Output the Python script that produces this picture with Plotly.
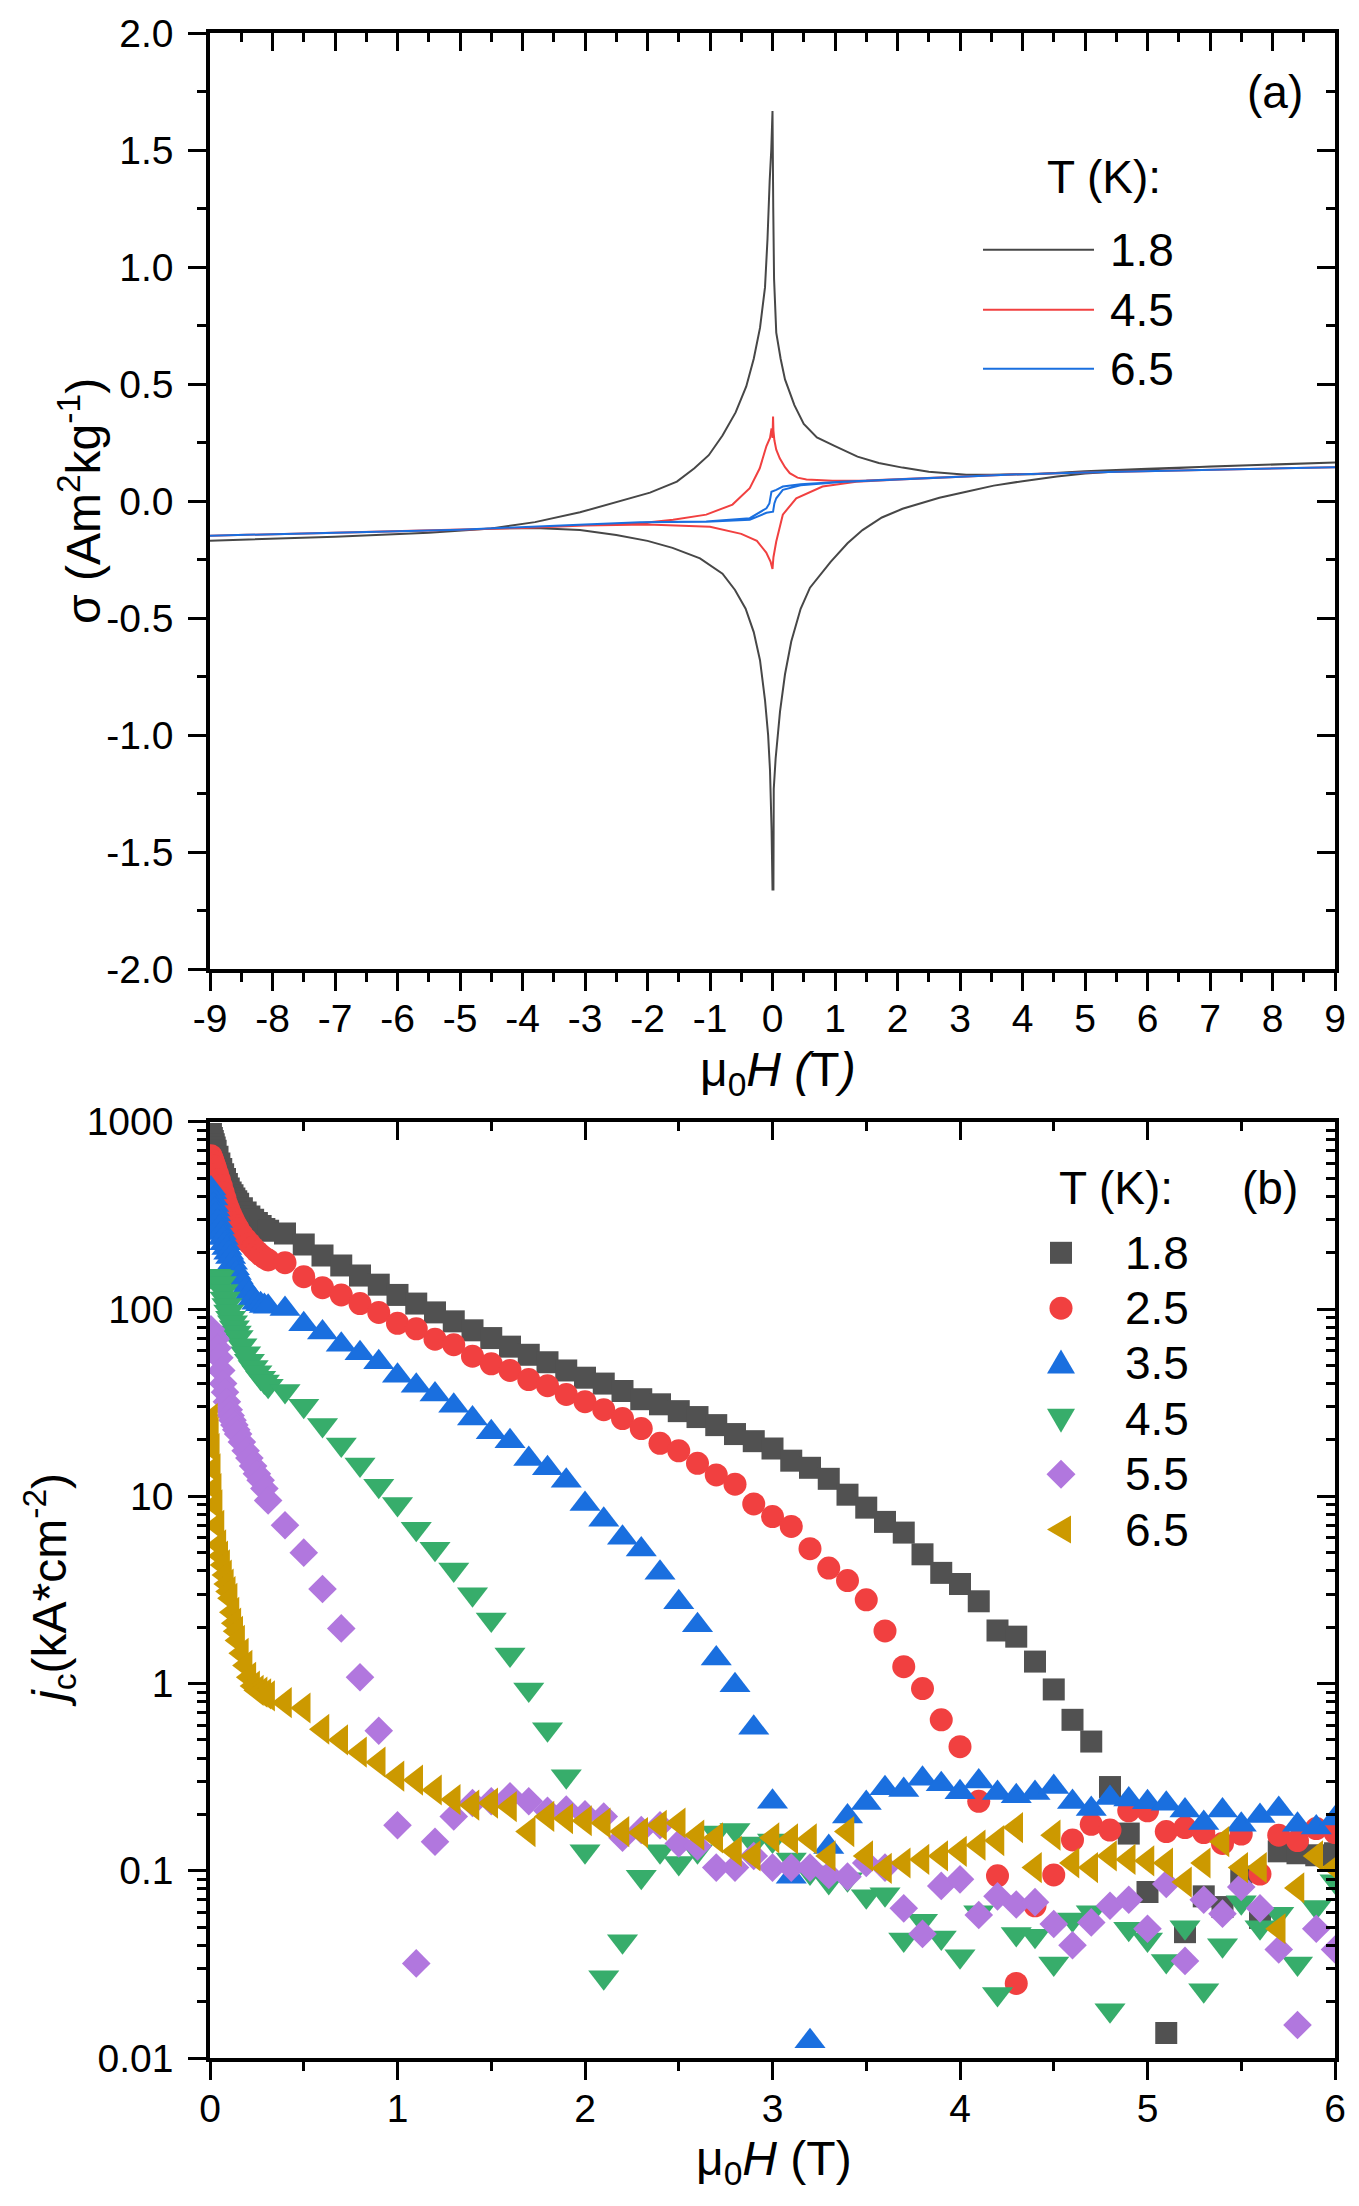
import plotly.graph_objects as go

FONT = "Liberation Sans, Arial, Helvetica, sans-serif"

# ---------------- Panel (a): sigma vs mu0H loops ----------------
# upper branch (field sweeping down from +9 T to -9 T)
H18_up = [9, 7, 6, 5, 4.5, 4.18, 3.5, 3.1, 2.5, 2.08, 1.7, 1.36, 1.0, 0.71, 0.5, 0.35, 0.2, 0.13, 0.06,
          0.04, 0.025, 0.012, 0.0, -0.02, -0.045, -0.08, -0.12, -0.2, -0.3, -0.42, -0.59, -0.8, -1.02,
          -1.25, -1.53, -1.96, -2.5, -3.08, -3.8, -4.5, -5.5, -7, -9]
S18_up = [0.165, 0.148, 0.138, 0.127, 0.12, 0.115, 0.113, 0.113, 0.125, 0.143, 0.163, 0.19, 0.235, 0.272,
          0.33, 0.41, 0.52, 0.608, 0.72, 0.82, 0.95, 1.25, 1.667, 1.5, 1.37, 1.12, 0.913, 0.74, 0.608,
          0.49, 0.379, 0.28, 0.196, 0.14, 0.083, 0.036, -0.005, -0.048, -0.09, -0.117, -0.135, -0.152, -0.169]
# lower branch (field sweeping up from -9 T to +9 T)
H18_dn = [-9, -7, -5.5, -4.5, -3.8, -3.08, -2.5, -2.0, -1.6, -1.16, -0.8, -0.6, -0.43, -0.3, -0.2, -0.12,
          -0.07, -0.04, -0.015, 0.0, 0.015, 0.02, 0.05, 0.12, 0.2, 0.3, 0.45, 0.6, 0.93, 1.2, 1.44, 1.75,
          2.08, 2.67, 3.1, 3.54, 4.0, 4.55, 5.0, 6, 7, 9]
S18_dn = [-0.169, -0.152, -0.135, -0.117, -0.115, -0.124, -0.145, -0.17, -0.2, -0.245, -0.31, -0.38, -0.46,
          -0.56, -0.68, -0.85, -1.0, -1.15, -1.4, -1.66, -1.66, -1.23, -1.1, -0.9, -0.74, -0.6, -0.46,
          -0.37, -0.26, -0.18, -0.124, -0.07, -0.033, 0.014, 0.04, 0.066, 0.085, 0.105, 0.118, 0.135, 0.148, 0.165]

H45_up = [9, 7, 5, 4, 3, 2.03, 1.5, 0.96, 0.543, 0.4, 0.276, 0.2, 0.116, 0.06, 0.03, 0.015, 0.009, 0.0,
          -0.015, -0.04, -0.097, -0.204, -0.364, -0.64, -1.06, -1.59, -2.12, -3, -4, -5, -7, -9]
S45_up = [0.145, 0.135, 0.122, 0.115, 0.104, 0.092, 0.088, 0.087, 0.092, 0.1, 0.119, 0.145, 0.183, 0.22,
          0.26, 0.3, 0.361, 0.27, 0.31, 0.27, 0.235, 0.14, 0.055, -0.015, -0.058, -0.08, -0.095, -0.104,
          -0.115, -0.122, -0.135, -0.148]
H45_dn = [-9, -7, -5, -4, -3, -2.0, -1.0, -0.5, -0.25, -0.1, -0.03, 0.0, 0.015, 0.06, 0.165, 0.38, 0.8,
          1.34, 2.03, 3, 4, 5, 7, 9]
S45_dn = [-0.148, -0.135, -0.122, -0.115, -0.104, -0.1, -0.11, -0.14, -0.17, -0.22, -0.26, -0.29, -0.24,
          -0.173, -0.058, 0.012, 0.062, 0.083, 0.092, 0.104, 0.115, 0.122, 0.135, 0.145]

H65_up = [9, 7, 5, 4, 3, 2.03, 1.1, 0.45, 0.165, 0.06, 0.0, -0.017, -0.05, -0.097, -0.364, -1.06, -2.12,
          -3, -5, -7, -9]
S65_up = [0.145, 0.135, 0.122, 0.115, 0.105, 0.094, 0.083, 0.072, 0.062, 0.048, 0.04, 0.04, -0.01, -0.031,
          -0.073, -0.087, -0.09, -0.1, -0.122, -0.135, -0.148]
H65_dn = [-9, -7, -5, -3, -2.12, -1.06, -0.364, -0.097, 0.009, 0.03, 0.06, 0.165, 0.45, 1.1, 2.03, 3, 4,
          5, 7, 9]
S65_dn = [-0.148, -0.135, -0.122, -0.1, -0.09, -0.088, -0.08, -0.05, -0.045, -0.01, 0.012, 0.048, 0.068,
          0.082, 0.093, 0.105, 0.115, 0.122, 0.135, 0.145]

loops = [("1.8", H18_up + H18_dn, S18_up + S18_dn, "#474747"),
         ("4.5", H45_up + H45_dn, S45_up + S45_dn, "#F14040"),
         ("6.5", H65_up + H65_dn, S65_up + S65_dn, "#1A6FDF")]

# ---------------- Panel (b): jc vs mu0H ----------------
H_dense = [0.005, 0.01, 0.015, 0.02, 0.025, 0.03, 0.04, 0.05, 0.06, 0.07, 0.08, 0.09, 0.10, 0.11, 0.12,
           0.13, 0.14, 0.15, 0.17, 0.19, 0.21, 0.23, 0.25, 0.27, 0.29, 0.31]
H_step = [0.4, 0.5, 0.6, 0.7, 0.8, 0.9, 1.0, 1.1, 1.2, 1.3, 1.4, 1.5, 1.6, 1.7, 1.8, 1.9, 2.0,
          2.1, 2.2, 2.3, 2.4, 2.5, 2.6, 2.7, 2.8, 2.9, 3.0, 3.1, 3.2, 3.3, 3.4, 3.5, 3.6, 3.7, 3.8, 3.9, 4.0,
          4.1, 4.2, 4.3, 4.4, 4.5, 4.6, 4.7, 4.8, 4.9, 5.0, 5.1, 5.2, 5.3, 5.4, 5.5, 5.6, 5.7, 5.8, 5.9, 6.0]
H_b = H_dense + H_step

jc_18 = [860, 820, 790, 760, 730, 700, 650, 600, 560, 525, 495, 465, 440, 420, 405, 390, 377, 365, 345, 328,
         312, 300, 288, 278, 268, 262,
         253, 221, 193, 171, 151, 135, 119, 107, 96, 86, 77, 70, 63, 57, 52, 47, 43,
         40, 36.5, 33, 31, 28.5, 26.5, 24, 21.5, 19.7, 18, 15.5, 14.2, 12.4, 10.2, 8.7, 7.3, 6.4, 4.9, 3.9, 3.4,
         2.75, 1.92, 1.78, 1.31, 0.93, 0.64, 0.49, 0.28, 0.158, 0.077, 0.0136, 0.047, 0.073, 0.064, 0.093,
         0.056, 0.127, 0.124, 0.121, 0.124]
jc_25 = [660, 640, 620, 600, 580, 560, 525, 490, 455, 420, 390, 360, 340, 320, 305, 290, 278, 268, 250, 236,
         224, 213, 203, 195, 188, 183,
         177, 149, 130, 119, 107, 96, 84, 78.5, 69, 64.5, 56, 51, 47, 42, 39, 35, 32,
         29, 26, 23, 19.2, 17.5, 15, 13, 11.6, 9.1, 7.8, 6.9, 5.25, 4.14, 3.55, 2.8, 1.91, 1.23, 0.94, 0.64, 0.46,
         0.235, 0.094, 0.025, 0.065, 0.095, 0.146, 0.177, 0.165, 0.209, 0.209, 0.162, 0.17, 0.16, 0.14, 0.157,
         0.096, 0.155, 0.145, 0.168, 0.16]
jc_35 = [440, 420, 390, 360, 340, 320, 295, 273, 255, 240, 225, 212, 200, 190, 177, 165, 156, 148, 138, 128,
         121, 114, 108, 106, 104, 103,
         100, 83, 75, 64.5, 58, 52, 44, 39, 35, 30.5, 26, 22, 19.7, 15.8, 14.1, 12.1, 9.1,
         7.5, 6.0, 5.2, 3.9, 2.72, 2.05, 1.36, 0.98, 0.58, 0.234, 0.093, 0.0123, 0.134, 0.195, 0.23, 0.276, 0.27,
         0.31, 0.29, 0.263, 0.3, 0.26, 0.25, 0.26, 0.28, 0.233, 0.214, 0.245, 0.24, 0.232, 0.228, 0.21, 0.18,
         0.21, 0.176, 0.196, 0.214, 0.176, 0.17, 0.19]
jc_45 = [150, 150, 150, 150, 150, 150, 149, 148, 138, 125, 114, 105, 97, 90, 85, 80, 75, 71, 64, 58,
         53, 49, 46, 43, 41, 39,
         36.5, 30.5, 24, 18.9, 14.8, 11.4, 9.1, 6.7, 5.25, 4.07, 3.0, 2.2, 1.43, 0.93, 0.57, 0.32, 0.127,
         0.027, 0.042, 0.093, 0.127, 0.11, 0.127, 0.16, 0.165, 0.14, 0.145, 0.115, 0.098, 0.087, 0.09, 0.073,
         0.075, 0.043, 0.054, 0.044, 0.035, 0.06, 0.022, 0.046, 0.045, 0.032, 0.055, 0.06, 0.018, 0.049, 0.043,
         0.033, 0.05, 0.023, 0.04, 0.068, 0.05, 0.059, 0.032, 0.064, 0.088]
jc_55 = [78, 74, 72, 71, 70, 69, 62, 55, 47, 40, 36, 32, 29, 27, 25.5, 24, 22.7, 21.5, 19.5, 17.5,
         16, 14.5, 13.2, 12.2, 11, 9.5,
         7.0, 5.0, 3.2, 1.97, 1.08, 0.56, 0.175, 0.032, 0.143, 0.195, 0.23, 0.235, 0.25, 0.235, 0.209, 0.212, 0.2,
         0.195, 0.15, 0.165, 0.175, 0.14, 0.135, 0.104, 0.104, 0.12, 0.104, 0.104, 0.104, 0.095, 0.093, 0.11,
         0.104, 0.063, 0.046, 0.083, 0.09, 0.058, 0.073, 0.066, 0.068, 0.052, 0.04, 0.053, 0.065, 0.07, 0.049,
         0.085, 0.033, 0.07, 0.059, 0.082, 0.063, 0.038, 0.015, 0.049, 0.038]
jc_65 = [26, 22, 18, 14, 11, 9, 7, 5.5, 4.8, 4.3, 3.8, 3.4, 3.1, 2.85, 2.4, 2.1, 1.9, 1.7, 1.45, 1.25,
         1.08, 0.97, 0.92, 0.9, 0.88, 0.86,
         0.79, 0.74, 0.57, 0.5, 0.43, 0.38, 0.32, 0.305, 0.27, 0.24, 0.224, 0.23, 0.22, 0.162, 0.195, 0.19, 0.185,
         0.18, 0.162, 0.16, 0.175, 0.18, 0.155, 0.15, 0.127, 0.12, 0.15, 0.148, 0.148, 0.12, 0.162, 0.12, 0.103,
         0.11, 0.115, 0.12, 0.127, 0.137, 0.145, 0.17, 0.104, 0.155, 0.11, 0.104, 0.12, 0.115, 0.113, 0.11,
         0.087, 0.11, 0.143, 0.104, 0.104, 0.049, 0.081, 0.12, 0.104]

series_b = [("1.8", jc_18, "square", "#515151", 22),
            ("2.5", jc_25, "circle", "#F14040", 23),
            ("3.5", jc_35, "triangle-up", "#1A6FDF", 27),
            ("4.5", jc_45, "triangle-down", "#37AD6B", 27),
            ("5.5", jc_55, "diamond", "#B177DE", 22),
            ("6.5", jc_65, "triangle-left", "#CC9900", 27)]

# tick labels
xa_vals = list(range(-9, 10))
xa_text = [str(v) for v in xa_vals]
ya_vals = [-2.0, -1.5, -1.0, -0.5, 0.0, 0.5, 1.0, 1.5, 2.0]
ya_text = ["-2.0", "-1.5", "-1.0", "-0.5", "0.0", "0.5", "1.0", "1.5", "2.0"]
xb_vals = [0, 1, 2, 3, 4, 5, 6]
xb_text = ["0", "1", "2", "3", "4", "5", "6"]
yb_vals = [0.01, 0.1, 1, 10, 100, 1000]
yb_text = ["0.01", "0.1", "1", "10", "100", "1000"]

xa_minor = [v + 0.5 for v in range(-9, 9)]
ya_minor = [-1.75, -1.25, -0.75, -0.25, 0.25, 0.75, 1.25, 1.75]
xb_minor = [0.5, 1.5, 2.5, 3.5, 4.5, 5.5]
yb_minor = [k * 10.0 ** e for e in range(-2, 3) for k in range(2, 10)]

fig = go.Figure()

for name, hx, sy, col in loops:
    fig.add_trace(go.Scatter(x=hx, y=sy, mode="lines", name=name, showlegend=False,
                             line=dict(color=col, width=2), xaxis="x", yaxis="y"))

for name, jc, sym, col, sz in series_b:
    fig.add_trace(go.Scatter(x=H_b, y=jc, mode="markers", name=name, showlegend=False,
                             marker=dict(symbol=sym, color=col, size=sz, line=dict(width=0)),
                             xaxis="x2", yaxis="y2"))

# empty traces so the mirror (overlay) axes are created
for xa, ya in [("x3", "y"), ("x", "y3"), ("x4", "y2"), ("x2", "y4")]:
    fig.add_trace(go.Scatter(x=[], y=[], xaxis=xa, yaxis=ya, showlegend=False, hoverinfo="skip"))

LW = 3.5
TW = 3
MAJ = 18
MIN = 9
tickfont = dict(family=FONT, size=39, color="black")


def base_axis(**kw):
    d = dict(showgrid=False, zeroline=False, showline=True, linecolor="black", linewidth=LW,
             tickcolor="black", tickwidth=TW, ticklen=MAJ, tickfont=tickfont, tickmode="array")
    d.update(kw)
    return d


def minor(vals, side):
    return dict(tickmode="array", tickvals=vals, ticks=side, ticklen=MIN, tickwidth=TW,
                tickcolor="black", showgrid=False)


DOM_A = [0.5377, 1.0]
DOM_B = [0.0, 0.4623]

fig.update_layout(
    width=1359, height=2206,
    margin=dict(l=210, r=24, t=31, b=148),
    paper_bgcolor="white", plot_bgcolor="white",
    font=dict(family=FONT, color="black"),
    showlegend=False,
    xaxis=base_axis(domain=[0, 1], anchor="y", range=[-9, 9], tickvals=xa_vals, ticktext=xa_text,
                    ticks="outside", ticklabelstandoff=-6, minor=minor(xa_minor, "outside")),
    yaxis=base_axis(domain=DOM_A, anchor="x", range=[-2, 2], tickvals=ya_vals, ticktext=ya_text,
                    ticks="outside", ticklabelstandoff=7, minor=minor(ya_minor, "outside")),
    xaxis3=base_axis(overlaying="x", anchor="y", side="top", range=[-9, 9], tickvals=xa_vals,
                     showticklabels=False, ticks="inside", minor=minor(xa_minor, "inside")),
    yaxis3=base_axis(overlaying="y", anchor="x", side="right", range=[-2, 2], tickvals=ya_vals,
                     showticklabels=False, ticks="inside", minor=minor(ya_minor, "inside")),
    xaxis2=base_axis(domain=[0, 1], anchor="y2", range=[0, 6], tickvals=xb_vals, ticktext=xb_text,
                     ticks="outside", ticklabelstandoff=-5, minor=minor(xb_minor, "outside")),
    yaxis2=base_axis(domain=DOM_B, anchor="x2", type="log", range=[-2, 3], tickvals=yb_vals,
                     ticktext=yb_text, ticks="outside", ticklabelstandoff=7,
                     minor=minor(yb_minor, "outside")),
    xaxis4=base_axis(overlaying="x2", anchor="y2", side="top", range=[0, 6], tickvals=xb_vals,
                     showticklabels=False, ticks="inside", minor=minor(xb_minor, "inside")),
    yaxis4=base_axis(overlaying="y2", anchor="x2", side="right", type="log", range=[-2, 3],
                     tickvals=yb_vals, showticklabels=False, ticks="inside",
                     minor=minor(yb_minor, "inside")),
)

TITLE = dict(family=FONT, size=48, color="black")
LEG = dict(family=FONT, size=46, color="black")


def PX(x):
    return (x - 210) / 1125.0


def PY(y):
    return 1 - (y - 31) / 2027.0


ann = [
    # axis titles
    dict(text="σ (Am<sup>2</sup>kg<sup>-1</sup>)", x=-0.1156, y=(DOM_A[0] + DOM_A[1]) / 2, textangle=-90,
         font=TITLE),
    dict(text="μ<sub>0</sub><i>H (</i>T<i>)</i>", x=0.505, y=0.4864, font=TITLE),
    dict(text="<i>j</i><sub>c</sub>(kA*cm<sup>-2</sup>)", x=-0.1422, y=(DOM_B[0] + DOM_B[1]) / 2,
         textangle=-90, font=TITLE),
    dict(text="μ<sub>0</sub><i>H</i> (T)", x=0.501, y=-0.0513, font=TITLE),
    # panel labels / legend titles
    dict(text="(a)", x=0.9467, y=0.9709, font=LEG),
    dict(text="T (K):", x=0.742, y=0.929, xanchor="left", font=LEG),
    dict(text="(b)", x=0.942, y=0.4297, font=LEG),
    dict(text="T (K):", x=0.753, y=0.4297, xanchor="left", font=LEG),
]
shapes = []

# legend of panel (a): line samples + labels
leg_y = [248, 308, 367]
for (name, _, _, col), yy in zip(loops, leg_y):
    shapes.append(dict(type="line", xref="paper", yref="paper", x0=PX(983), x1=PX(1094),
                       y0=PY(yy), y1=PY(yy), line=dict(color=col, width=2)))
    ann.append(dict(text=name, x=PX(1108), y=PY(yy), xanchor="left", font=LEG))

# legend of panel (b): marker samples + labels
cx = 1061


def poly(pts):
    return "M" + " L".join("%.5f,%.5f" % (PX(a), PY(b)) for a, b in pts) + " Z"


for i, (name, _, sym, col, _) in enumerate(series_b):
    cy = 1252 + 55.4 * i
    base = dict(xref="paper", yref="paper", fillcolor=col, line=dict(width=0), layer="above")
    if sym == "square":
        shapes.append(dict(type="rect", x0=PX(cx - 11), x1=PX(cx + 11), y0=PY(cy - 11), y1=PY(cy + 11), **base))
    elif sym == "circle":
        shapes.append(dict(type="circle", x0=PX(cx - 11.5), x1=PX(cx + 11.5), y0=PY(cy - 11.5),
                           y1=PY(cy + 11.5), **base))
    elif sym == "triangle-up":
        shapes.append(dict(type="path", path=poly([(cx - 14, cy + 10), (cx + 14, cy + 10), (cx, cy - 14)]),
                           **base))
    elif sym == "triangle-down":
        shapes.append(dict(type="path", path=poly([(cx - 14, cy - 10), (cx + 14, cy - 10), (cx, cy + 14)]),
                           **base))
    elif sym == "diamond":
        shapes.append(dict(type="path", path=poly([(cx - 14.5, cy), (cx, cy - 14.5), (cx + 14.5, cy),
                                                   (cx, cy + 14.5)]), **base))
    else:
        shapes.append(dict(type="path", path=poly([(cx - 14, cy), (cx + 10, cy - 14), (cx + 10, cy + 14)]),
                           **base))
    ann.append(dict(text=name, x=PX(1123), y=PY(cy), xanchor="left", font=LEG))

for a in ann:
    a.setdefault("xref", "paper")
    a.setdefault("yref", "paper")
    a.setdefault("showarrow", False)
    a.setdefault("xanchor", "center")
    a.setdefault("yanchor", "middle")

fig.update_layout(annotations=ann, shapes=shapes)

fig.write_html("out.html")
